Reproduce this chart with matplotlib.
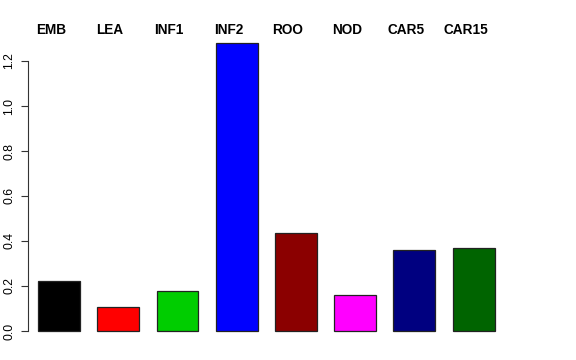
import matplotlib
matplotlib.use("Agg")
import matplotlib.pyplot as plt
import matplotlib.transforms as mtransforms

plt.rcParams['font.family'] = ['Liberation Sans', 'DejaVu Sans']

# stage names and values
stages = ['EMB', 'LEA', 'INF1', 'INF2', 'ROO', 'NOD', 'CAR5', 'CAR15']
values = [0.222, 0.108, 0.179, 1.28, 0.437, 0.161, 0.361, 0.367]
colors = ['#000000', '#FF0000', '#00CD00', '#0000FF', '#8B0000', '#FF00FF', '#000080', '#006400']
yticks = [0.0, 0.2, 0.4, 0.6, 0.8, 1.0, 1.2]

fig = plt.figure(figsize=(5.76, 3.6), dpi=100)
ax = fig.add_axes([28 / 576, (360 - 342.5) / 360, 476.7 / 576, 311 / 360])

xs = list(range(len(stages)))
ax.bar(xs, values, width=0.708, color=colors, edgecolor='#222222', linewidth=0.9)

ax.set_xlim(-0.523, len(stages) - 1 + 0.523)
ax.set_ylim(-0.0512, 1.3312)

# only the y axis, R style
for s in ['top', 'right', 'bottom']:
    ax.spines[s].set_visible(False)
ax.spines['left'].set_bounds(0, 1.2)
ax.spines['left'].set_color('#333333')
ax.set_xticks([])
ax.set_yticks(yticks)
ax.set_yticklabels(['%.1f' % v for v in yticks], rotation=90, va='center', fontsize=8.8)
ax.tick_params(axis='y', length=5, width=0.8, color='#333333', pad=4)

# stage names along the top
trans = mtransforms.blended_transform_factory(ax.transData, fig.transFigure)
for x, name in zip(xs, stages):
    ax.text(x - 0.14, 1 - 30 / 360, name, transform=trans, ha='center', va='center',
            fontsize=9.8, fontweight='bold')

fig.savefig('out.png', dpi=100)
